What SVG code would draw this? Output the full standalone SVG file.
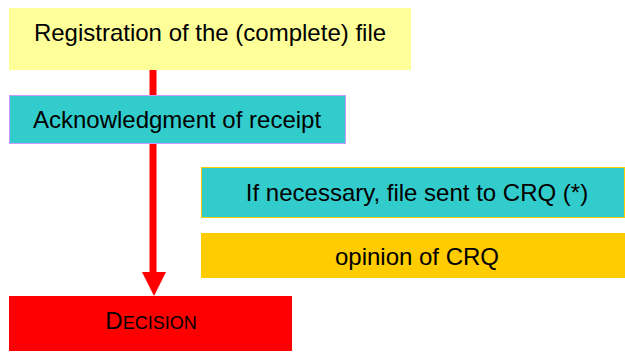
<svg xmlns="http://www.w3.org/2000/svg" width="625" height="352" viewBox="0 0 625 352">
<style>
text{font-family:"Liberation Sans",Arial,sans-serif;font-size:24px;fill:#000;text-anchor:middle}
</style>
<rect width="625" height="352" fill="#fff"/>
<g id="connectors">
<line x1="153" y1="70" x2="153" y2="274" stroke="#ff0000" stroke-width="7"/>
<polygon points="142,272 166,272 154,296" fill="#ff0000"/>
</g>
<g id="registration">
<rect x="9" y="8" width="402" height="62" fill="#ffff99"/>
<text x="210" y="41">Registration of the (complete) file</text>
</g>
<g id="acknowledgment">
<rect x="9.5" y="95.5" width="336" height="48" fill="#33cccc" stroke="#cc99ff" stroke-width="1"/>
<text x="177" y="128">Acknowledgment of receipt</text>
</g>
<g id="sent-crq">
<rect x="201.5" y="167.5" width="423" height="50" fill="#33cccc" stroke="#ffcc00" stroke-width="1"/>
<text x="417" y="201">If necessary, file sent to CRQ (*)</text>
</g>
<g id="opinion">
<rect x="201" y="233" width="424" height="45" fill="#ffcc00"/>
<text x="417" y="265">opinion of CRQ</text>
</g>
<g id="decision">
<rect x="9" y="296" width="283" height="55" fill="#ff0000"/>
<text x="151" y="329" style="font-size:24px">D<tspan style="font-size:18px">ECISION</tspan></text>
</g>
</svg>
